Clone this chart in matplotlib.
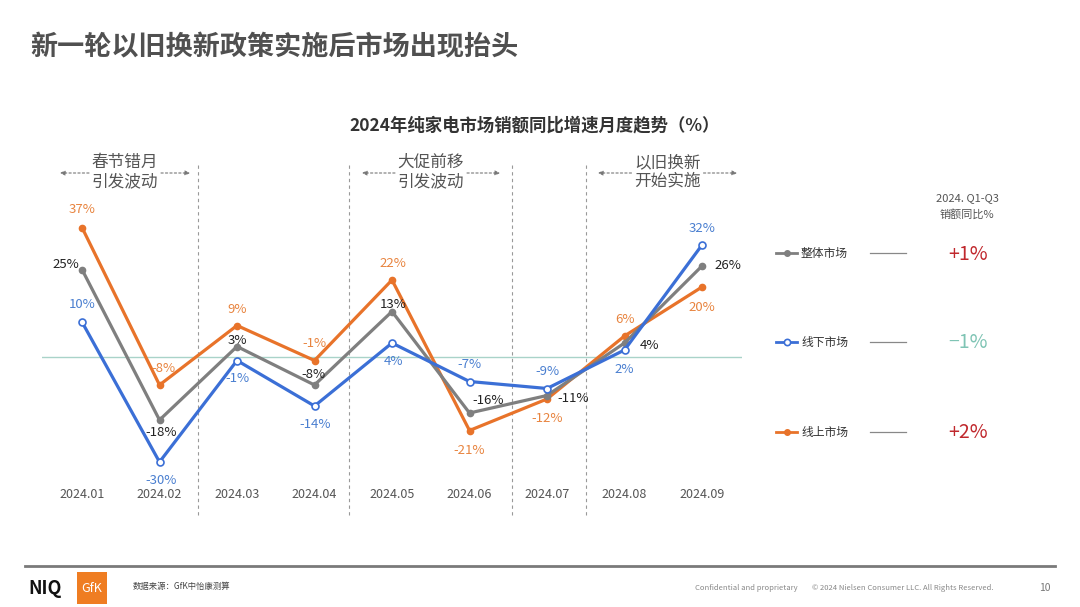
import matplotlib
matplotlib.use("Agg")
import matplotlib.pyplot as plt
from matplotlib.patches import Rectangle

plt.rcParams['font.family'] = ['Noto Sans CJK SC', 'DejaVu Sans']

months = ["2024.01", "2024.02", "2024.03", "2024.04", "2024.05",
          "2024.06", "2024.07", "2024.08", "2024.09"]
overall = [25, -18, 3, -8, 13, -16, -11, 4, 26]
offline = [10, -30, -1, -14, 4, -7, -9, 2, 32]
online = [37, -8, 9, -1, 22, -21, -12, 6, 20]

series_names = ["整体市场", "线下市场", "线上市场"]
ytd_values = ["+1%", "\u22121%", "+2%"]

periods = ["春节错月\n引发波动", "大促前移\n引发波动", "以旧换新\n开始实施"]
period_dividers = [1.5, 3.45, 5.55, 6.5]

GRAY = "#7f7f7f"
BLUE = "#3b6fd6"
ORANGE = "#e8732a"
BLUE_TXT = "#4a7fd0"
ORANGE_TXT = "#e8843f"
DARK_TXT = "#222222"

W, H = 1080, 607
fig = plt.figure(figsize=(W / 100, H / 100), dpi=100)

# overlay axes in pixel coordinates for page furniture
page = fig.add_axes([0, 0, 1, 1])
page.set_xlim(0, W)
page.set_ylim(H, 0)
page.axis("off")

# chart axes: month index 0..8 -> px 82..702, 3.5 px per %
step = 77.5
x0 = 82
left_px, right_px, top_px, bot_px, zero_px = 42, 742, 150, 520, 357
ppp = 3.5
ax = fig.add_axes([left_px / W, (H - bot_px) / H, (right_px - left_px) / W, (bot_px - top_px) / H])
ax.set_xlim((left_px - x0) / step, (right_px - x0) / step)
ax.set_ylim(-(bot_px - zero_px) / ppp, (zero_px - top_px) / ppp)
ax.axis("off")

xs = list(range(len(months)))

ax.axhline(0, color="#a9d3c9", lw=1, zorder=1)

ax.plot(xs, online, color=ORANGE, lw=2.3, marker="o", ms=4.5, mfc=ORANGE, mec=ORANGE, zorder=3)
ax.plot(xs, overall, color=GRAY, lw=2.3, marker="o", ms=4.5, mfc=GRAY, mec=GRAY, zorder=4)
ax.plot(xs, offline, color=BLUE, lw=2.3, marker="o", ms=5, mfc="white", mec=BLUE, mew=1.2, zorder=5)

# label offsets in pixels (dx, dy up)
off_gray = [(-16, 5), (2, -12), (0, 6), (-1, 11), (1, 7), (19, 12), (26, -3), (25, -2), (26, 1)]
off_blue = [(0, 18), (2, -18), (0, -18), (1, -19), (1, -18), (0, 17), (0, 17), (0, -19), (0, 17)]
off_orange = [(0, 18), (4, 16), (0, 16), (0, 17), (1, 17), (0, -20), (0, -20), (0, 17), (0, -20)]


def label(values, offs, color):
    for x, v, (dx, dy) in zip(xs, values, offs):
        ax.annotate(f"{v}%", (x, v), xytext=(dx * 0.72, dy * 0.72), textcoords="offset points",
                    ha="center", va="center", fontsize=9.5, color=color, zorder=6)


label(overall, off_gray, DARK_TXT)
label(offline, off_blue, BLUE_TXT)
label(online, off_orange, ORANGE_TXT)

for i, m in enumerate(months):
    ax.text(i, -(494 - zero_px) / ppp, m, ha="center", va="center", fontsize=9, color="#555555")

for d in period_dividers:
    ax.plot([d, d], [-(515 - zero_px) / ppp, (zero_px - 162) / ppp], color="#999999",
            lw=0.8, ls=(0, (3, 3)), zorder=0)

# period annotations in page coords
period_spans = [(60, 190), (362, 500), (598, 737)]
for txt, (a, b) in zip(periods, period_spans):
    c = (a + b) / 2
    page.text(c, 172, txt, ha="center", va="center", fontsize=12, color="#555555", linespacing=1.15)
    page.annotate("", xy=(a, 173), xytext=(c - 36, 173),
                  arrowprops=dict(arrowstyle="-|>", color="#777777", lw=0.8, ls=(0, (2, 2)),
                                  mutation_scale=7, shrinkA=0, shrinkB=0))
    page.annotate("", xy=(b, 173), xytext=(c + 36, 173),
                  arrowprops=dict(arrowstyle="-|>", color="#777777", lw=0.8, ls=(0, (2, 2)),
                                  mutation_scale=7, shrinkA=0, shrinkB=0))

# titles
page.text(30, 47, "新一轮以旧换新政策实施后市场出现抬头", ha="left", va="center",
          fontsize=19.5, fontweight="bold", color="#505050")
page.text(535, 125, "2024年纯家电市场销额同比增速月度趋势（%）", ha="center", va="center",
          fontsize=12.5, fontweight="bold", color="#333333")

# legend / YTD panel
page.text(967, 198, "2024. Q1-Q3", ha="center", va="center", fontsize=8, color="#555555")
page.text(967, 214, "销额同比%", ha="center", va="center", fontsize=8, color="#555555")
legend_y = [253, 342, 432]
legend_colors = [GRAY, BLUE, ORANGE]
value_colors = ["#c0282d", "#7fc4b4", "#c0282d"]
for name, val, y, col, vcol in zip(series_names, ytd_values, legend_y, legend_colors, value_colors):
    page.plot([776, 797], [y, y], color=col, lw=2)
    if col == BLUE:
        page.plot([786.5], [y], marker="o", ms=4.5, mfc="white", mec=col, mew=1.2)
    else:
        page.plot([786.5], [y], marker="o", ms=4, color=col)
    page.text(801, y, name, ha="left", va="center", fontsize=8.5, color="#333333")
    page.plot([870, 906], [y, y], color="#888888", lw=0.9)
    page.text(968, y + 1, val, ha="center", va="center", fontsize=14, color=vcol)

# footer
page.plot([25, 1055], [566, 566], color="#7a7a7a", lw=2)
page.text(28, 588, "NIQ", ha="left", va="center", fontsize=13, fontweight="bold", color="#111111")
page.add_patch(Rectangle((77, 572), 30, 32, color="#ef7d22", lw=0))
page.text(92, 588, "GfK", ha="center", va="center", fontsize=9, color="white")
page.text(133, 586, "数据来源：GfK中怡康测算", ha="left", va="center", fontsize=6, color="#444444")
page.text(695, 588, "Confidential and proprietary", ha="left", va="center", fontsize=5.5, color="#888888")
page.text(812, 588, "\u00a9 2024 Nielsen Consumer LLC. All Rights Reserved.", ha="left", va="center",
          fontsize=5.5, color="#888888")
page.text(1045, 588, "10", ha="center", va="center", fontsize=7.5, color="#777777")

fig.savefig("out.png", dpi=100, facecolor="white")
